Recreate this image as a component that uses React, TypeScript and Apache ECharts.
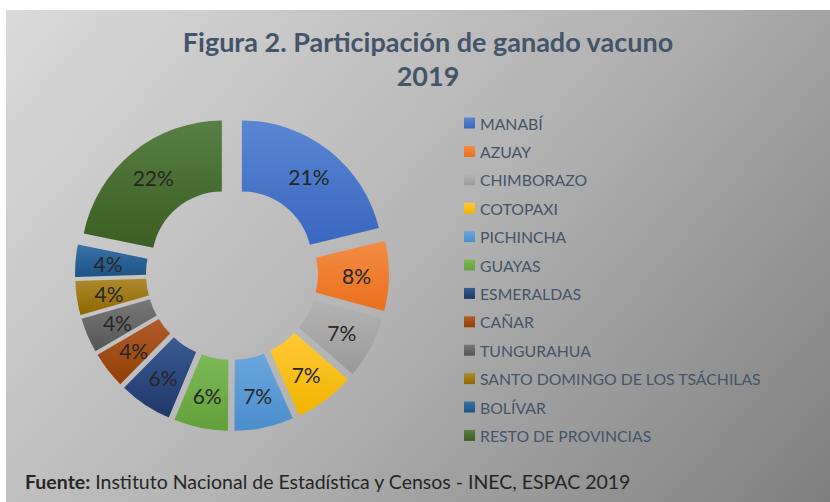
import React, { useEffect, useRef } from "react";
import * as echarts from "echarts";

const categories = [
  "MANABÍ",
  "AZUAY",
  "CHIMBORAZO",
  "COTOPAXI",
  "PICHINCHA",
  "GUAYAS",
  "ESMERALDAS",
  "CAÑAR",
  "TUNGURAHUA",
  "SANTO DOMINGO DE LOS TSÁCHILAS",
  "BOLÍVAR",
  "RESTO DE PROVINCIAS",
];
const shares = [21.2, 8.0, 7.2, 6.9, 6.8, 6.2, 6.1, 4.2, 4.0, 3.9, 3.7, 21.8];
const lightColors = [
  "#5A86D2", "#F48C45", "#B4B4B4", "#FFC936", "#6AA6DD", "#7DB857",
  "#3A5A92", "#B05C2A", "#787878", "#AE8A2E", "#3873A8", "#587F45",
];
const darkColors = [
  "#3A67C0", "#E8701C", "#999999", "#F0B400", "#4A8DCC", "#63A03A",
  "#1E386A", "#923F06", "#555555", "#8C6700", "#1E5284", "#3A5E22",
];
const titleText = "Figura 2. Participación de ganado vacuno\n2019";
const sourceLabel = "Fuente:";
const sourceText = " Instituto Nacional de Estadística y Censos - INEC, ESPAC 2019";

export default function App() {
  const ref = useRef<HTMLDivElement>(null);
  useEffect(() => {
    if (!ref.current) return;
    const chart = echarts.init(ref.current, null, { renderer: "svg" });
    const data = categories.map((name, i) => ({
      name,
      value: shares[i],
      selected: true,
      itemStyle: {
        color: new echarts.graphic.LinearGradient(0, 0, 0, 1, [
          { offset: 0, color: lightColors[i] },
          { offset: 1, color: darkColors[i] },
        ]),
      },
    }));
    chart.setOption({
      animation: false,
      backgroundColor: "#ffffff",
      graphic: [
        {
          type: "rect",
          z: -10,
          silent: true,
          shape: { x: 6, y: 10, width: 824, height: 492 },
          style: {
            fill: new echarts.graphic.LinearGradient(
              6, 10, 717, 631,
              [
                { offset: 0, color: "#dadada" },
                { offset: 0.5, color: "#b4b4b4" },
                { offset: 1, color: "#7f7f7f" },
              ],
              true
            ),
          },
        },
        {
          type: "text",
          left: 25,
          top: 471,
          style: {
            text: "{b|" + sourceLabel + "}" + sourceText,
            fontFamily: "Lato",
            fontSize: 19.5,
            fill: "#262626",
            rich: {
              b: { fontFamily: "Lato", fontSize: 19.5, fontWeight: "bold", fill: "#262626", color: "#262626" },
            },
          },
        },
      ],
      title: {
        text: titleText,
        left: 428,
        top: 24,
        padding: 0,
        textAlign: "center",
        textStyle: {
          fontFamily: "Lato",
          fontWeight: "bold",
          fontSize: 27,
          lineHeight: 34,
          color: "#44546A",
        },
      },
      legend: {
        orient: "vertical",
        left: 464,
        top: 115,
        padding: 0,
        itemWidth: 11,
        itemHeight: 11,
        itemGap: 12.4,
        icon: "rect",
        selectedMode: false,
        textStyle: {
          fontFamily: "Lato",
          fontSize: 15.8,
          lineHeight: 16,
          color: "#44546A",
        },
        data: categories,
      },
      series: [
        {
          type: "pie",
          center: [232, 274],
          radius: [70, 141],
          startAngle: 90,
          clockwise: true,
          selectedMode: "multiple",
          selectedOffset: 16,
          emphasis: { disabled: true },
          label: {
            show: true,
            position: "inside",
            fontFamily: "Lato",
            fontSize: 21,
            color: "#262626",
            formatter: (p: any) => Math.round(p.percent) + "%",
          },
          labelLine: { show: false },
          data,
        },
      ],
    });
    return () => chart.dispose();
  }, []);
  return (
    <div
      ref={ref}
      style={{ position: "absolute", left: 0, top: 0, width: 830, height: 502 }}
    />
  );
}
